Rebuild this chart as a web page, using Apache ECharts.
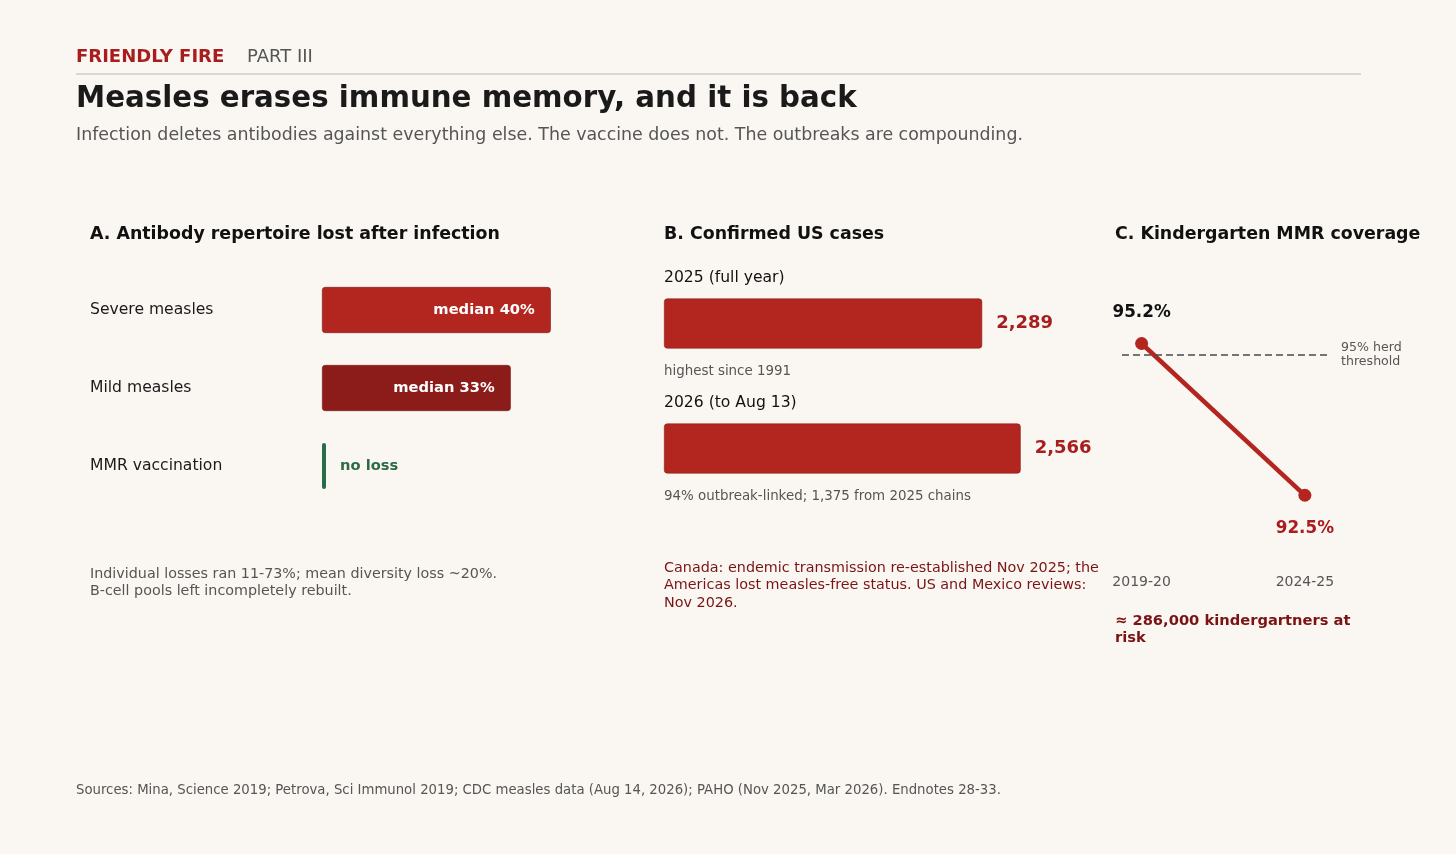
<!DOCTYPE html>
<html>
<head>
<meta charset="utf-8">
<script src="https://cdn.jsdelivr.net/npm/echarts@6/dist/echarts.min.js"></script>
<style>
html, body { margin: 0; padding: 0; background: #faf7f2; }
#chart { width: 1456px; height: 854px; }
</style>
</head>
<body>
<div id="chart"></div>
<script>
// panel A: antibody repertoire lost
var lossCats = ['Severe measles', 'Mild measles', 'MMR vaccination'];
var lossValues = [40, 33, 0];
var lossLabels = ['median 40%', 'median 33%', 'no loss'];
var lossColors = ['#b3261f', '#8c1c1a', '#2b6b47'];

// panel B: confirmed US cases
var caseCats = ['2025 (full year)', '2026 (to Aug 13)'];
var caseValues = [2289, 2566];
var caseNotes = ['highest since 1991', '94% outbreak-linked; 1,375 from 2025 chains'];

// panel C: kindergarten MMR coverage
var mmrYears = ['2019-20', '2024-25'];
var mmrCoverage = [95.2, 92.5];
var herdThreshold = 95;

var FONT = 'DejaVu Sans';
var RED = '#b3261f';
var DARK_RED = '#7a1414';
var GREY = '#555555';

var chart = echarts.init(document.getElementById('chart'));

function txt(id, x, y, text, size, color, weight, extra) {
    var style = {
        text: text,
        x: x,
        y: y,
        fill: color,
        font: (weight || 'normal') + ' ' + size + 'px "' + FONT + '"',
        align: 'left',
        verticalAlign: 'middle'
    };
    for (var k in extra || {}) {
        style[k] = extra[k];
    }
    return { type: 'text', id: id, silent: true, style: style };
}

chart.setOption({
    backgroundColor: '#faf7f2',
    animation: false,
    textStyle: { fontFamily: FONT },
    grid: [
        { left: 322, top: 271, width: 286, height: 234 },
        { left: 664, top: 261, width: 417, height: 250 },
        { left: 1122, top: 298.5, width: 209, height: 253 }
    ],
    xAxis: [
        { gridIndex: 0, type: 'value', min: 0, max: 50, show: false },
        { gridIndex: 1, type: 'value', min: 0, max: 3000, show: false },
        {
            gridIndex: 2,
            type: 'value',
            min: -0.12,
            max: 1.16,
            axisLine: { show: false },
            axisTick: { show: false },
            splitLine: { show: false },
            axisLabel: {
                customValues: [0, 1],
                margin: 24,
                fontSize: 14,
                color: GREY,
                formatter: function (v) {
                    return mmrYears[Math.round(v)];
                }
            }
        }
    ],
    yAxis: [
        {
            gridIndex: 0,
            type: 'category',
            inverse: true,
            data: lossCats,
            axisLine: { show: false },
            axisTick: { show: false },
            axisLabel: {
                margin: 232,
                align: 'left',
                fontSize: 15.6,
                color: '#1a1a1a'
            }
        },
        {
            gridIndex: 1,
            type: 'category',
            inverse: true,
            data: caseCats,
            show: false
        },
        {
            gridIndex: 2,
            type: 'value',
            min: 91.5,
            max: 96,
            show: false
        }
    ],
    series: [
        {
            type: 'bar',
            xAxisIndex: 0,
            yAxisIndex: 0,
            barWidth: 46,
            barMinHeight: 4,
            data: lossValues.map(function (v, i) {
                var zero = v === 0;
                return {
                    value: v,
                    itemStyle: {
                        color: lossColors[i],
                        borderColor: zero ? lossColors[i] : '#7a1414',
                        borderWidth: zero ? 0 : 0.6,
                        borderRadius: zero ? 2 : 3
                    },
                    label: {
                        show: true,
                        position: zero ? 'right' : 'insideRight',
                        distance: zero ? 14 : 16,
                        formatter: lossLabels[i],
                        color: zero ? lossColors[i] : '#ffffff',
                        fontWeight: 'bold',
                        fontSize: 14.7,
                        fontFamily: FONT
                    }
                };
            })
        },
        {
            type: 'bar',
            xAxisIndex: 1,
            yAxisIndex: 1,
            barWidth: 50,
            itemStyle: {
                color: RED,
                borderColor: '#8c1c1a',
                borderWidth: 0.6,
                borderRadius: 3
            },
            label: {
                show: true,
                position: 'right',
                distance: 14,
                color: '#a81e1e',
                fontWeight: 'bold',
                fontSize: 18,
                fontFamily: FONT,
                formatter: function (p) {
                    return p.value.toLocaleString('en-US');
                }
            },
            data: caseValues
        },
        {
            type: 'line',
            xAxisIndex: 2,
            yAxisIndex: 2,
            symbol: 'circle',
            symbolSize: 13,
            lineStyle: { color: RED, width: 4.5 },
            itemStyle: { color: RED },
            data: mmrCoverage.map(function (v, i) {
                var first = i === 0;
                return {
                    value: [i, v],
                    label: {
                        show: true,
                        position: first ? 'top' : 'bottom',
                        distance: first ? 16 : 18,
                        formatter: v.toFixed(1) + '%',
                        color: first ? '#111111' : '#a81e1e',
                        fontWeight: 'bold',
                        fontSize: 16.8,
                        fontFamily: FONT
                    }
                };
            }),
            markLine: {
                silent: true,
                symbol: 'none',
                lineStyle: { color: '#4a4a4a', type: [7, 4], width: 1.6 },
                label: {
                    position: 'end',
                    distance: 10,
                    formatter: herdThreshold + '% herd\nthreshold',
                    color: GREY,
                    fontSize: 12.6,
                    lineHeight: 14,
                    align: 'left',
                    fontFamily: FONT
                },
                data: [{ yAxis: herdThreshold }]
            }
        }
    ]
});

// header, notes, and the annotations above and below the case bars
var graphics = [
    txt('kicker', 76, 57, 'FRIENDLY FIRE', 18, '#a81e1e', 'bold'),
    txt('part', 247, 57, 'PART III', 18, GREY),
    {
        type: 'line',
        id: 'rule',
        silent: true,
        shape: { x1: 76, y1: 74, x2: 1361, y2: 74 },
        style: { stroke: '#cfcbc4', lineWidth: 1.5 }
    },
    txt('title', 76, 99.5, 'Measles erases immune memory, and it is back', 29.3, '#1a1a1a', 'bold'),
    txt('subtitle', 76, 135, 'Infection deletes antibodies against everything else. The vaccine does not. The outbreaks are compounding.', 17.4, GREY),
    txt('titleA', 90, 234, 'A. Antibody repertoire lost after infection', 17.4, '#111111', 'bold'),
    txt('titleB', 664, 234, 'B. Confirmed US cases', 17.4, '#111111', 'bold'),
    txt('titleC', 1115, 234, 'C. Kindergarten MMR coverage', 17.4, '#111111', 'bold'),
    txt('noteA', 90, 582.5, 'Individual losses ran 11-73%; mean diversity loss ~20%.\nB-cell pools left incompletely rebuilt.', 14.3, GREY, 'normal', { lineHeight: 17 }),
    txt('noteB', 664, 585.5, 'Canada: endemic transmission re-established Nov 2025; the\nAmericas lost measles-free status. US and Mexico reviews:\nNov 2026.', 14.35, DARK_RED, 'normal', { lineHeight: 17.5 }),
    txt('noteC', 1115, 630, '\u2248 286,000 kindergartners at\nrisk', 14.7, DARK_RED, 'bold', { lineHeight: 17 }),
    txt('sources', 76, 791, 'Sources: Mina, Science 2019; Petrova, Sci Immunol 2019; CDC measles data (Aug 14, 2026); PAHO (Nov 2025, Mar 2026). Endnotes 28-33.', 13.27, GREY)
];

caseCats.forEach(function (cat, i) {
    var p = chart.convertToPixel({ gridIndex: 1 }, [0, cat]);
    graphics.push(txt('caseCat' + i, p[0], p[1] - 46, cat, 15.6, '#111111'));
    graphics.push(txt('caseNote' + i, p[0], p[1] + 48, caseNotes[i], 13.4, GREY));
});

chart.setOption({ graphic: graphics });
</script>
</body>
</html>
